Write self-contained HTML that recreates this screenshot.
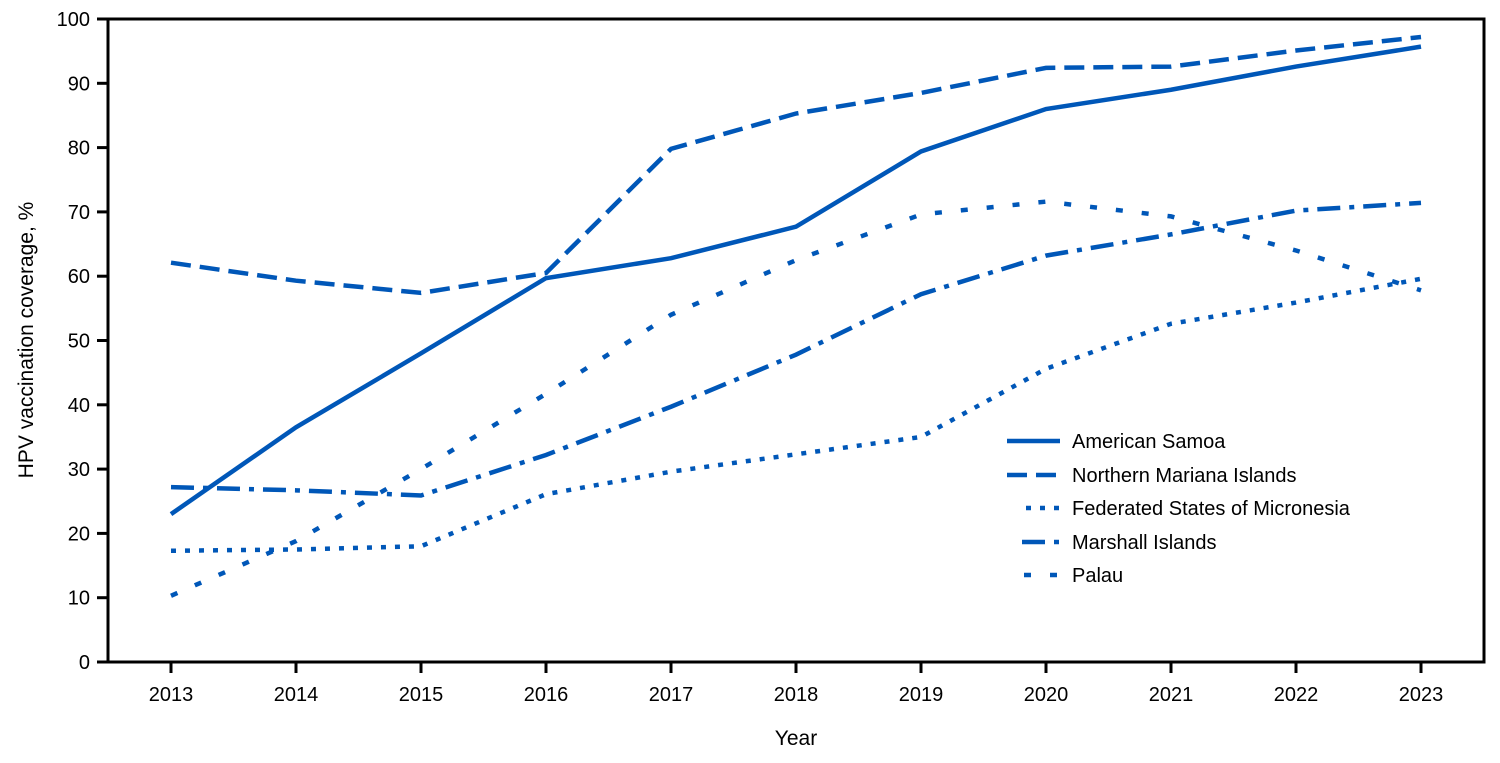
<!DOCTYPE html><html><head><style>body{margin:0;background:#fff}svg text{font-family:"Liberation Sans",sans-serif;fill:#000}</style></head><body>
<svg width="1500" height="758" xmlns="http://www.w3.org/2000/svg">
<rect x="108" y="19" width="1376" height="643" fill="none" stroke="#000" stroke-width="3"/>
<g stroke="#000" stroke-width="3" id="ticks"></g>
<g font-size="20" text-anchor="end" id="yl"></g>
<g font-size="20" text-anchor="middle" id="xl"></g>
<text x="796" y="745" font-size="21" text-anchor="middle">Year</text>
<text transform="translate(33,340) rotate(-90)" font-size="21" text-anchor="middle">HPV vaccination coverage, %</text>
<g id="series" fill="none" stroke="#0057b8" stroke-width="4.5"></g>
<g stroke="#0057b8" stroke-width="4.5">
<line x1="1007" y1="441" x2="1060" y2="441"/>
<line x1="1007" y1="475" x2="1060" y2="475" stroke-dasharray="20,9"/>
<line x1="1026" y1="508" x2="1060" y2="508" stroke-dasharray="5,9"/>
<line x1="1022" y1="542" x2="1060" y2="542" stroke-dasharray="23,9,5,9"/>
<line x1="1024" y1="575" x2="1060" y2="575" stroke-dasharray="7,19"/>
</g>
<g font-size="20">
<text x="1072" y="448">American Samoa</text>
<text x="1072" y="482">Northern Mariana Islands</text>
<text x="1072" y="515">Federated States of Micronesia</text>
<text x="1072" y="549">Marshall Islands</text>
<text x="1072" y="582">Palau</text>
</g>
</svg>
<script>
const ns="http://www.w3.org/2000/svg";
function el(p,t,a,txt){const e=document.createElementNS(ns,t);for(const k in a)e.setAttribute(k,a[k]);if(txt!==undefined)e.textContent=txt;document.getElementById(p).appendChild(e);}
const Y=v=>662-6.43*v, X=i=>171+125*i;
for(let v=0;v<=100;v+=10){el("ticks","line",{x1:97,x2:108,y1:Y(v),y2:Y(v)});el("yl","text",{x:90,y:Y(v)+7},v);}
for(let i=0;i<11;i++){el("ticks","line",{x1:X(i),x2:X(i),y1:662,y2:673});el("xl","text",{x:X(i),y:701},2013+i);}
const S=[
[[23,36.5,48,59.7,62.8,67.7,79.4,86,89,92.6,95.7],""],
[[62.1,59.3,57.4,60.5,79.8,85.3,88.5,92.4,92.6,95.1,97.2],"20,9"],
[[17.3,17.5,18,26.1,29.6,32.3,35,45.6,52.6,55.9,59.6],"5,9"],
[[27.2,26.7,25.9,32.2,39.7,47.8,57.2,63.2,66.5,70.2,71.4],"23,9,5,9"],
[[10.3,18.8,30,41.7,54,62.5,69.6,71.6,69.3,64,57.8],"7,19"]];
for(const [d,da] of S){const a={points:d.map((v,i)=>X(i)+","+Y(v)).join(" ")};if(da)a["stroke-dasharray"]=da;el("series","polyline",a);}
</script>
</body></html>
